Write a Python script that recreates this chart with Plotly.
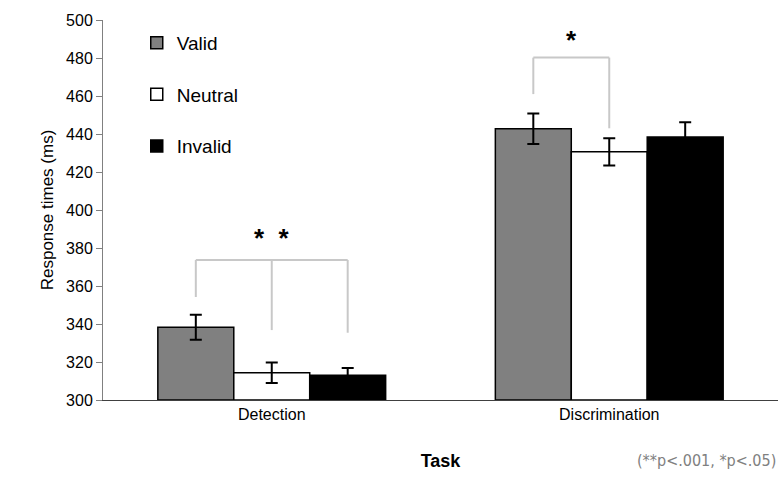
import plotly.graph_objects as go

tasks = ["Detection", "Discrimination"]
conditions = ["Valid", "Neutral", "Invalid"]
colors = ["#808080", "#ffffff", "#000000"]
means = {
    "Valid": [338.3, 442.8],
    "Neutral": [314.4, 430.6],
    "Invalid": [313.0, 438.4],
}
errors = {
    "Valid": [6.6, 8.0],
    "Neutral": [5.4, 7.2],
    "Invalid": [3.8, 7.8],
}
y_ticks = list(range(300, 501, 20))

bracket_det = dict(x=[-0.225, 0.225, 0.0], y=373.7, drops=[354.2, 335.4, 336.8], label="*  *")
bracket_dis = dict(x=[0.775, 1.0], y=480.2, drops=[461.0, 443.0], label="*")

fig = go.Figure()
for i, c in enumerate(conditions):
    fig.add_trace(go.Bar(
        x=[0, 1], y=[m - 300 for m in means[c]], base=300, name=c,
        marker=dict(color=colors[i], line=dict(color="black", width=1.5)),
        error_y=dict(type="data", array=errors[c], color="black", thickness=2, width=6),
        legendgroup=c,
    ))

line_style = dict(color="#c8c8c8", width=2)
xl, xr, xm = bracket_det["x"]
fig.add_shape(type="line", x0=xl, x1=xr, y0=bracket_det["y"], y1=bracket_det["y"], line=line_style)
for xx, d in zip([xl, xr, xm], bracket_det["drops"]):
    fig.add_shape(type="line", x0=xx, x1=xx, y0=bracket_det["y"], y1=d, line=line_style)
fig.add_annotation(x=0, y=bracket_det["y"], text="<b>" + bracket_det["label"] + "</b>", showarrow=False,
                   yshift=22, font=dict(size=26, color="black", family="Liberation Sans, Arial"))
xl, xr = bracket_dis["x"]
fig.add_shape(type="line", x0=xl, x1=xr, y0=bracket_dis["y"], y1=bracket_dis["y"], line=line_style)
for xx, d in zip([xl, xr], bracket_dis["drops"]):
    fig.add_shape(type="line", x0=xx, x1=xx, y0=bracket_dis["y"], y1=d, line=line_style)
fig.add_annotation(x=(xl + xr) / 2, y=bracket_dis["y"], text="<b>" + bracket_dis["label"] + "</b>", showarrow=False,
                   yshift=18, font=dict(size=26, color="black", family="Liberation Sans, Arial"))

fig.add_annotation(xref="paper", yref="paper", x=1.0, y=-0.158, xanchor="right", yanchor="middle",
                   text="(**p<.001, *p<.05)", showarrow=False,
                   font=dict(size=16, color="#808080", family="DejaVu Sans Condensed, DejaVu Sans"))

fig.update_layout(
    width=783, height=487,
    margin=dict(l=103, r=5, t=20, b=87),
    paper_bgcolor="white", plot_bgcolor="white",
    barmode="group", bargap=0.325, bargroupgap=0,
    font=dict(family="Liberation Sans, Arial", size=16, color="black"),
    showlegend=True,
    legend=dict(x=0.05, y=0.99, xanchor="left", yanchor="top", font=dict(size=19),
                tracegroupgap=24, bgcolor="rgba(0,0,0,0)", itemwidth=30),
    xaxis=dict(
        tickmode="array", tickvals=[0, 1], ticktext=tasks, range=[-0.5, 1.5],
        showline=True, linecolor="#404040", linewidth=1, showgrid=False, zeroline=False,
        ticks="", title=dict(text="<b>Task</b>", font=dict(size=18), standoff=32),
    ),
    yaxis=dict(
        range=[300, 500], tickvals=y_ticks, showline=True, linecolor="#808080", linewidth=1,
        ticks="outside", ticklen=6, tickcolor="#808080", showgrid=False, zeroline=False,
        title=dict(text="Response times (ms)", font=dict(size=17), standoff=8),
    ),
)

fig.write_html("out.html")
